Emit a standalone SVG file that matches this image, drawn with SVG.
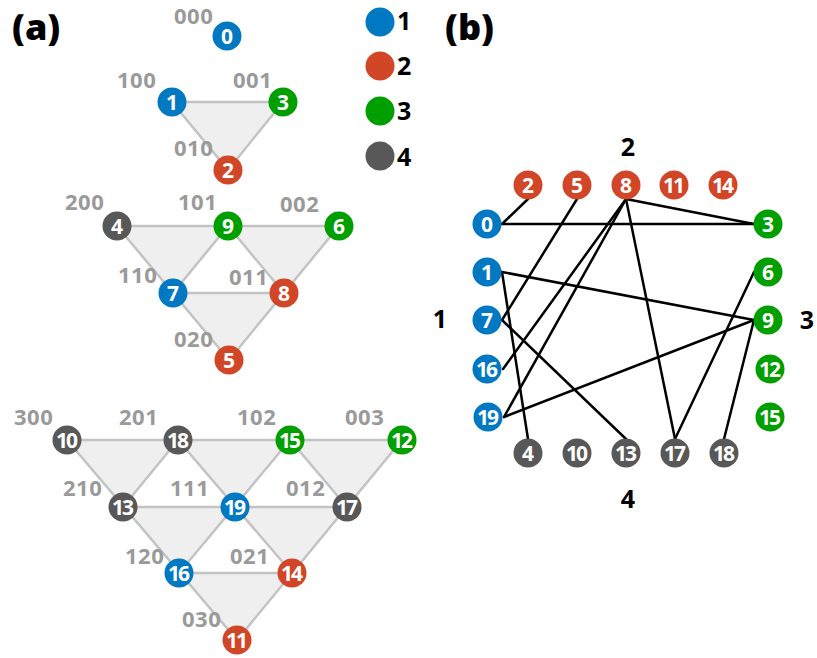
<svg xmlns="http://www.w3.org/2000/svg" width="817" height="658" viewBox="0 0 817 658">
  <style>
    text { font-family: "Open Sans", "Liberation Sans", sans-serif; font-weight: 700; }
    .c1 { fill: #0079c2; }
    .c2 { fill: #d24628; }
    .c3 { fill: #009f00; }
    .c4 { fill: #585858; }
    .num { fill: #ffffff; font-size: 21px; text-anchor: middle; }
    .num2 { fill: #ffffff; font-size: 21px; text-anchor: middle; letter-spacing: -2px; }
    .code { fill: #9a9a9a; font-size: 22px; letter-spacing: 0.5px; }
    .panel { fill: #000000; font-size: 36px; font-weight: 800; }
    .lab { fill: #000000; font-size: 25px; text-anchor: middle; }
    .leg { fill: #000000; font-size: 25px; }
    .tri { fill: #efefef; stroke: none; }
    .lat { stroke: #c3c3c3; stroke-width: 2.5; fill: none; }
    .link { stroke: #000000; stroke-width: 2.5; fill: none; stroke-linecap: round; }
  </style>

  <!-- panel titles -->
  <text class="panel" x="12" y="40">(a)</text>
  <text class="panel" x="445" y="40">(b)</text>

  <!-- legend -->
  <g id="legend">
    <circle class="c1" cx="380" cy="22" r="14.5"/>
    <text class="leg" x="397" y="30">1</text>
    <circle class="c2" cx="380" cy="66" r="14.5"/>
    <text class="leg" x="397" y="75">2</text>
    <circle class="c3" cx="380" cy="111" r="14.5"/>
    <text class="leg" x="397" y="120">3</text>
    <circle class="c4" cx="380" cy="156" r="14.5"/>
    <text class="leg" x="397" y="166">4</text>
  </g>

  <!-- (a) shaded faces of the simplex lattices -->
  <g id="faces">
    <polygon class="tri" points="172,102 283,102 228,170"/>
    <polygon class="tri" points="117,226 228,226 173,293"/>
    <polygon class="tri" points="228,226 339,226 284,293"/>
    <polygon class="tri" points="173,293 284,293 229,360"/>
    <polygon class="tri" points="67,440 178,440 123,507"/>
    <polygon class="tri" points="178,440 290,440 235,507"/>
    <polygon class="tri" points="290,440 402,440 347,507"/>
    <polygon class="tri" points="123,507 235,507 179,573"/>
    <polygon class="tri" points="235,507 347,507 292,573"/>
    <polygon class="tri" points="179,573 292,573 237,640"/>
  </g>

  <!-- (a) lattice edges -->
  <g id="lattice-edges" class="lat">
    <polygon points="172,102 283,102 228,170"/>
    <polygon points="117,226 339,226 229,360"/>
    <polyline points="173,293 284,293"/>
    <polyline points="173,293 228,226 284,293"/>
    <polygon points="67,440 402,440 237,640"/>
    <polyline points="123,507 347,507"/>
    <polyline points="179,573 292,573"/>
    <polyline points="123,507 178,440 292,573"/>
    <polyline points="179,573 290,440 347,507"/>
  </g>

  <!-- (a) configuration codes -->
  <g id="codes">
    <text class="code" x="174" y="24">000</text>
    <text class="code" x="117" y="88">100</text>
    <text class="code" x="233" y="88">001</text>
    <text class="code" x="174" y="156">010</text>
    <text class="code" x="65" y="210">200</text>
    <text class="code" x="178" y="210">101</text>
    <text class="code" x="280" y="212">002</text>
    <text class="code" x="118" y="283">110</text>
    <text class="code" x="229" y="285">011</text>
    <text class="code" x="174" y="347">020</text>
    <text class="code" x="14" y="425">300</text>
    <text class="code" x="119" y="425">201</text>
    <text class="code" x="237" y="425">102</text>
    <text class="code" x="345" y="425">003</text>
    <text class="code" x="63" y="496">210</text>
    <text class="code" x="170" y="496">111</text>
    <text class="code" x="286" y="496">012</text>
    <text class="code" x="125" y="564">120</text>
    <text class="code" x="230" y="564">021</text>
    <text class="code" x="182" y="627">030</text>
  </g>

  <!-- (a) lattice nodes -->
  <g id="a-n0"><circle class="c1" cx="227" cy="36" r="14.5"/><text class="num" x="227" y="43.5">0</text></g>
  <g id="a-n1"><circle class="c1" cx="172" cy="102" r="14.5"/><text class="num" x="172" y="109.5">1</text></g>
  <g id="a-n3"><circle class="c3" cx="283" cy="102" r="14.5"/><text class="num" x="283" y="109.5">3</text></g>
  <g id="a-n2"><circle class="c2" cx="228" cy="170" r="14.5"/><text class="num" x="228" y="177.5">2</text></g>
  <g id="a-n4"><circle class="c4" cx="117" cy="226" r="14.5"/><text class="num" x="117" y="233.5">4</text></g>
  <g id="a-n9"><circle class="c3" cx="228" cy="226" r="14.5"/><text class="num" x="228" y="233.5">9</text></g>
  <g id="a-n6"><circle class="c3" cx="339" cy="226" r="14.5"/><text class="num" x="339" y="233.5">6</text></g>
  <g id="a-n7"><circle class="c1" cx="173" cy="293" r="14.5"/><text class="num" x="173" y="300.5">7</text></g>
  <g id="a-n8"><circle class="c2" cx="284" cy="293" r="14.5"/><text class="num" x="284" y="300.5">8</text></g>
  <g id="a-n5"><circle class="c2" cx="229" cy="360" r="14.5"/><text class="num" x="229" y="367.5">5</text></g>
  <g id="a-n10"><circle class="c4" cx="67" cy="440" r="14.5"/><text class="num2" x="66" y="447.5">10</text></g>
  <g id="a-n18"><circle class="c4" cx="178" cy="440" r="14.5"/><text class="num2" x="177" y="447.5">18</text></g>
  <g id="a-n15"><circle class="c3" cx="290" cy="440" r="14.5"/><text class="num2" x="289" y="447.5">15</text></g>
  <g id="a-n12"><circle class="c3" cx="402" cy="440" r="14.5"/><text class="num2" x="401" y="447.5">12</text></g>
  <g id="a-n13"><circle class="c4" cx="123" cy="507" r="14.5"/><text class="num2" x="122" y="514.5">13</text></g>
  <g id="a-n19"><circle class="c1" cx="235" cy="507" r="14.5"/><text class="num2" x="234" y="514.5">19</text></g>
  <g id="a-n17"><circle class="c4" cx="347" cy="507" r="14.5"/><text class="num2" x="346" y="514.5">17</text></g>
  <g id="a-n16"><circle class="c1" cx="179" cy="573" r="14.5"/><text class="num2" x="178" y="580.5">16</text></g>
  <g id="a-n14"><circle class="c2" cx="292" cy="573" r="14.5"/><text class="num2" x="291" y="580.5">14</text></g>
  <g id="a-n11"><circle class="c2" cx="237" cy="640" r="14.5"/><text class="num2" x="236" y="647.5">11</text></g>

  <!-- (b) group labels -->
  <text class="lab" x="628" y="156">2</text>
  <text class="lab" x="440" y="328">1</text>
  <text class="lab" x="807" y="329">3</text>
  <text class="lab" x="628" y="508">4</text>

  <!-- (b) connections -->
  <g id="links" class="link">
    <line x1="528" y1="199" x2="502" y2="224"/>
    <line x1="502" y1="224" x2="754" y2="224"/>
    <line x1="626" y1="199" x2="754" y2="224"/>
    <line x1="577" y1="199" x2="502" y2="320"/>
    <line x1="626" y1="199" x2="503" y2="369"/>
    <line x1="626" y1="199" x2="504" y2="417"/>
    <line x1="626" y1="199" x2="675" y2="439"/>
    <line x1="502" y1="272" x2="754" y2="320"/>
    <line x1="502" y1="272" x2="528" y2="439"/>
    <line x1="502" y1="320" x2="626" y2="439"/>
    <line x1="504" y1="417" x2="754" y2="320"/>
    <line x1="754" y1="272" x2="675" y2="439"/>
    <line x1="754" y1="320" x2="724" y2="439"/>
  </g>

  <!-- (b) nodes grouped by colour -->
  <g id="b-n2"><circle class="c2" cx="528" cy="185" r="14.5"/><text class="num" x="528" y="192.5">2</text></g>
  <g id="b-n5"><circle class="c2" cx="577" cy="185" r="14.5"/><text class="num" x="577" y="192.5">5</text></g>
  <g id="b-n8"><circle class="c2" cx="626" cy="185" r="14.5"/><text class="num" x="626" y="192.5">8</text></g>
  <g id="b-n11"><circle class="c2" cx="674" cy="185" r="14.5"/><text class="num2" x="673" y="192.5">11</text></g>
  <g id="b-n14"><circle class="c2" cx="723" cy="185" r="14.5"/><text class="num2" x="722" y="192.5">14</text></g>

  <g id="b-n0"><circle class="c1" cx="487" cy="224" r="14.5"/><text class="num" x="487" y="231.5">0</text></g>
  <g id="b-n1"><circle class="c1" cx="487" cy="272" r="14.5"/><text class="num" x="487" y="279.5">1</text></g>
  <g id="b-n7"><circle class="c1" cx="487" cy="320" r="14.5"/><text class="num" x="487" y="327.5">7</text></g>
  <g id="b-n16"><circle class="c1" cx="487" cy="369" r="14.5"/><text class="num2" x="486" y="376.5">16</text></g>
  <g id="b-n19"><circle class="c1" cx="488" cy="417" r="14.5"/><text class="num2" x="487" y="424.5">19</text></g>

  <g id="b-n3"><circle class="c3" cx="768" cy="224" r="14.5"/><text class="num" x="768" y="231.5">3</text></g>
  <g id="b-n6"><circle class="c3" cx="768" cy="272" r="14.5"/><text class="num" x="768" y="279.5">6</text></g>
  <g id="b-n9"><circle class="c3" cx="768" cy="320" r="14.5"/><text class="num" x="768" y="327.5">9</text></g>
  <g id="b-n12"><circle class="c3" cx="770" cy="369" r="14.5"/><text class="num2" x="769" y="376.5">12</text></g>
  <g id="b-n15"><circle class="c3" cx="770" cy="417" r="14.5"/><text class="num2" x="769" y="424.5">15</text></g>

  <g id="b-n4"><circle class="c4" cx="528" cy="453" r="14.5"/><text class="num" x="528" y="460.5">4</text></g>
  <g id="b-n10"><circle class="c4" cx="577" cy="453" r="14.5"/><text class="num2" x="576" y="460.5">10</text></g>
  <g id="b-n13"><circle class="c4" cx="626" cy="453" r="14.5"/><text class="num2" x="625" y="460.5">13</text></g>
  <g id="b-n17"><circle class="c4" cx="675" cy="453" r="14.5"/><text class="num2" x="674" y="460.5">17</text></g>
  <g id="b-n18"><circle class="c4" cx="724" cy="453" r="14.5"/><text class="num2" x="723" y="460.5">18</text></g>
</svg>
